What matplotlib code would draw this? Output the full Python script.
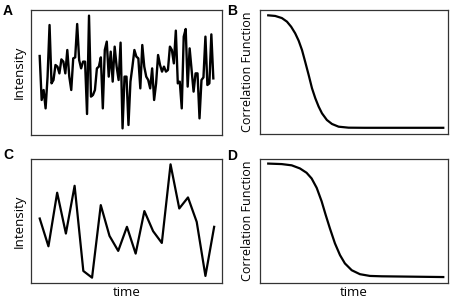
import numpy as np
import matplotlib
matplotlib.use("Agg")
import matplotlib.pyplot as plt

plt.rcParams['font.family'] = ['Open Sans', 'DejaVu Sans']

# panel A: fast intensity trace
intensity_a = [63.2, 28, 36, 21.3, 46.7, 88, 41.3, 44, 56, 54.7, 49.3, 60.5, 58.7,
               49.3, 68, 46.7, 36, 61.3, 62.1, 88.8, 60, 53.3, 58.7, 58.7, 16.8, 95.5,
               30.7, 32, 36, 53.3, 54.7, 62.1, 21.3, 68, 74.7, 46.7, 66.7, 42.7, 70.7,
               54.7, 44, 73.9, 5.3, 46.7, 46.7, 8, 42.7, 54.7, 68, 62.7, 61.3, 37.3,
               72, 54.7, 46.7, 44, 37.3, 53.3, 28, 41.3, 64, 56, 50.7, 54.7, 50.7, 52,
               70.7, 68, 57.3, 83.5, 41.3, 42.7, 21.3, 78.7, 84.8, 38.7, 69.3, 52, 34.7,
               49.3, 49.3, 13.3, 44, 46.1, 78.7, 40, 41.3, 80.5, 45.3]

# panel C: slow intensity trace
intensity_c = [52, 29.6, 72.8, 39.9, 78.4, 9.7, 4.3, 62.8, 38, 25.9, 45.3, 23.7,
               58, 41.8, 32.3, 95.7, 60.1, 69, 49.3, 5.7, 45.3]

# panel B: correlation of the fast trace
time_b = [0, 0.04, 0.078, 0.107, 0.131, 0.154, 0.174, 0.193, 0.211, 0.231, 0.25,
          0.269, 0.288, 0.307, 0.335, 0.364, 0.402, 0.459, 0.55, 1.0]
corr_b = [0.957, 0.952, 0.935, 0.906, 0.865, 0.812, 0.752, 0.677, 0.583, 0.476,
          0.369, 0.288, 0.221, 0.167, 0.113, 0.081, 0.059, 0.051, 0.05, 0.05]

# panel D: correlation of the slow trace
time_d = [0, 0.077, 0.134, 0.181, 0.219, 0.248, 0.277, 0.305, 0.328, 0.352, 0.381,
          0.41, 0.438, 0.477, 0.524, 0.581, 0.648, 1.0]
corr_d = [0.963, 0.959, 0.949, 0.924, 0.889, 0.843, 0.767, 0.659, 0.550, 0.442,
          0.320, 0.225, 0.158, 0.103, 0.071, 0.057, 0.054, 0.048]

W, H = 455, 301
fig = plt.figure(figsize=(W / 100, H / 100), dpi=100)


def add_ax(left, top, right, bottom):
    return fig.add_axes([left / W, 1 - bottom / H, (right - left) / W, (bottom - top) / H])


axA = add_ax(31, 10, 222, 135)
axB = add_ax(260, 10, 448, 134)
axC = add_ax(31, 159, 222, 283)
axD = add_ax(260, 159, 448, 283)

xa = np.arange(len(intensity_a))
axA.plot(xa, intensity_a, color='black', lw=1.7)
axA.set_xlim(-0.05 * (len(xa) - 1), 1.05 * (len(xa) - 1))
axA.set_ylim(0, 100)

xc = np.arange(len(intensity_c))
axC.plot(xc, intensity_c, color='black', lw=1.6)
axC.set_xlim(-0.05 * (len(xc) - 1), 1.045 * (len(xc) - 1))
axC.set_ylim(0, 100)

axB.plot(time_b, corr_b, color='black', lw=1.6, solid_joinstyle='round')
axB.set_xlim(-0.047, 1.027)
axB.set_ylim(0, 1)

axD.plot(time_d, corr_d, color='black', lw=1.6, solid_joinstyle='round')
axD.set_xlim(-0.047, 1.027)
axD.set_ylim(0, 1)

for ax in (axA, axB, axC, axD):
    ax.set_xticks([])
    ax.set_yticks([])
    for s in ax.spines.values():
        s.set_linewidth(0.9)
        s.set_color('#333333')

axA.set_ylabel('Intensity', fontsize=9.5, labelpad=4)
axC.set_ylabel('Intensity', fontsize=9.5, labelpad=4)
axB.set_ylabel('Correlation Function', fontsize=9, labelpad=4)
axD.set_ylabel('Correlation Function', fontsize=9, labelpad=4)
axC.set_xlabel('time', fontsize=9.5, labelpad=2)
axD.set_xlabel('time', fontsize=9.5, labelpad=2)

for letter, x, y in [('A', 8, 11), ('B', 232, 11), ('C', 8, 155), ('D', 232, 156)]:
    fig.text(x / W, 1 - y / H, letter, fontsize=10, fontweight='bold',
             family='Liberation Sans', ha='center', va='center')

fig.savefig('out.png', dpi=100)
